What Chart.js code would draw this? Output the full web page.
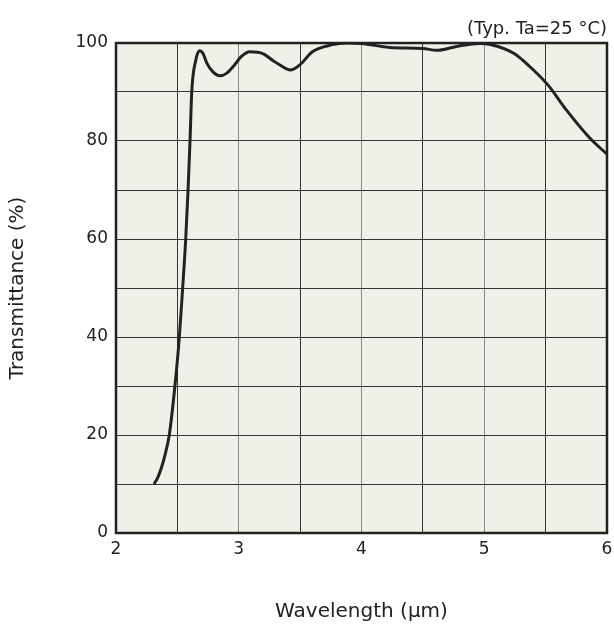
<!DOCTYPE html>
<html>
<head>
<meta charset="utf-8">
<script src="https://cdn.jsdelivr.net/npm/chart.js@4/dist/chart.umd.min.js"></script>
<style>
  html, body { margin: 0; padding: 0; background: #fff; }
  #wrap { width: 614px; height: 628px; }
</style>
</head>
<body>
<div id="wrap"><canvas id="chart"></canvas></div>
<script>
const wavelength = [2.31, 2.34, 2.37, 2.40, 2.434, 2.48, 2.516, 2.543, 2.568, 2.587, 2.603, 2.617, 2.65, 2.68, 2.71, 2.74, 2.79, 2.847, 2.9, 2.955, 3.02, 3.09, 3.2, 3.28, 3.336, 3.42, 3.5, 3.6, 3.72, 3.88, 4.0, 4.23, 4.5, 4.61, 4.775, 4.965, 5.05, 5.24, 5.37, 5.52, 5.67, 5.86, 6.0];
const transmittance = [10, 11.3, 13.3, 16, 20, 30, 40, 50, 60, 70, 80, 90, 96.5, 98.4, 97.8, 95.9, 94.1, 93.3, 93.8, 95.2, 97.2, 98.2, 97.8, 96.4, 95.5, 94.5, 95.6, 98.2, 99.4, 100, 99.9, 99.1, 98.9, 98.5, 99.3, 99.9, 99.7, 97.9, 95.2, 91.4, 86.3, 80.6, 77.3];
const xTicks = [2, 3, 4, 5, 6];
const yTicks = [0, 20, 40, 60, 80, 100];
const note = '(Typ. Ta=25 °C)';

const FONT = '"DejaVu Sans", sans-serif';

const plotBackground = {
  id: 'plotBackground',
  beforeDraw(chart) {
    const { ctx, chartArea: a } = chart;
    ctx.save();
    ctx.fillStyle = '#f1f0e8';
    ctx.fillRect(a.left, a.top, a.right - a.left, a.bottom - a.top);
    ctx.restore();
  },
  afterDraw(chart) {
    const { ctx, chartArea: a } = chart;
    ctx.save();
    ctx.strokeStyle = '#222';
    ctx.lineWidth = 2.5;
    ctx.strokeRect(a.left, a.top, a.right - a.left, a.bottom - a.top);
    ctx.fillStyle = '#222';
    ctx.font = '18px ' + FONT;
    ctx.textAlign = 'right';
    ctx.textBaseline = 'bottom';
    ctx.fillText(note, a.right, a.top - 5);
    ctx.restore();
  }
};

new Chart(document.getElementById('chart'), {
  type: 'line',
  data: {
    datasets: [{
      data: wavelength.map((x, i) => ({ x, y: transmittance[i] })),
      borderColor: '#222',
      borderWidth: 3,
      pointRadius: 0,
      cubicInterpolationMode: 'monotone',
      fill: false
    }]
  },
  options: {
    responsive: true,
    maintainAspectRatio: false,
    animation: false,
    layout: { padding: { top: 43, right: 0, left: 0, bottom: 0 } },
    plugins: { legend: { display: false }, tooltip: { enabled: false } },
    scales: {
      x: {
        type: 'linear',
        min: 2,
        max: 6,
        ticks: {
          stepSize: 0.5,
          autoSkip: false,
          maxRotation: 0,
          padding: 6,
          color: '#222',
          font: { family: FONT, size: 17 },
          callback: (v) => xTicks.includes(v) ? String(v) : ''
        },
        grid: {
          color: (c) => Number.isInteger(c.tick.value) ? '#8a8a8a' : '#333',
          lineWidth: 1,
          drawTicks: false
        },
        border: { display: false },
        title: {
          display: true,
          text: 'Wavelength (µm)',
          color: '#222',
          font: { family: FONT, size: 20 },
          padding: { top: 30 }
        },
        afterFit(scale) { scale.height = 95; scale.paddingRight = 7; }
      },
      y: {
        min: 0,
        max: 100,
        ticks: {
          stepSize: 10,
          autoSkip: false,
          padding: 8,
          color: '#222',
          font: { family: FONT, size: 17 },
          callback: (v) => yTicks.includes(v) ? String(v) : ''
        },
        grid: { color: '#333', lineWidth: 1, drawTicks: false },
        border: { display: false },
        title: {
          display: true,
          text: 'Transmittance (%)',
          color: '#222',
          font: { family: FONT, size: 20 },
          padding: { top: 6, bottom: 4 }
        },
        afterFit(scale) { scale.width = 116; }
      }
    }
  },
  plugins: [plotBackground]
});
</script>
</body>
</html>
